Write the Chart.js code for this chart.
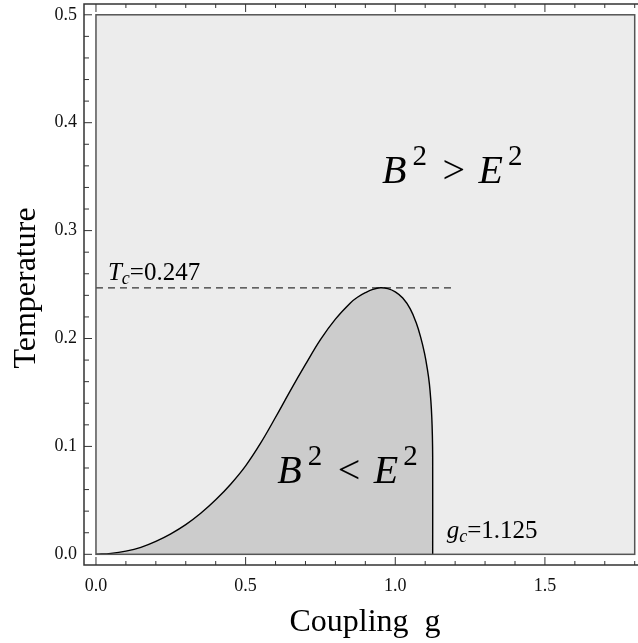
<!DOCTYPE html>
<html>
<head>
<meta charset="utf-8">
<script src="https://cdn.jsdelivr.net/npm/chart.js@4.4.0/dist/chart.umd.min.js"></script>
<style>
html, body { margin: 0; padding: 0; background: #fff; overflow: hidden; }
canvas { display: block; }
</style>
</head>
<body>
<canvas id="phaseChart" width="638" height="643"></canvas>
<script>
// boundary B^2 = E^2
var couplingG = [0, 0.05, 0.1, 0.15, 0.2, 0.25, 0.3, 0.35, 0.4, 0.45, 0.5, 0.55, 0.6, 0.65, 0.7, 0.75,
    0.8, 0.85, 0.875, 0.9, 0.925, 0.95, 0.975, 1.0, 1.025, 1.05, 1.07, 1.085, 1.098, 1.107, 1.114,
    1.119, 1.122, 1.124, 1.125, 1.125];
var temperatureT = [0, 0.0009, 0.003, 0.0065, 0.012, 0.019, 0.0275, 0.038, 0.0505, 0.065, 0.082, 0.103, 0.127, 0.152, 0.176, 0.199,
    0.218, 0.233, 0.2385, 0.2425, 0.2455, 0.247, 0.2462, 0.2432, 0.2375, 0.2275, 0.2145, 0.201, 0.186, 0.172, 0.158,
    0.142, 0.127, 0.110, 0.090, 0];

var criticalT = 0.247;
var criticalG = 1.125;
var dashedG = [0, 1.2];
var plotRangeG = [0, 1.8];
var plotRangeT = [0, 0.5];
var xTickLabels = [0, 0.5, 1.0, 1.5];
var yTickLabels = [0, 0.1, 0.2, 0.3, 0.4, 0.5];

var serif = '"Liberation Serif", "DejaVu Serif", serif';

// parts: text, font, dx (offset from start), dy
function drawParts(ctx, x, y, parts) {
    var cur = x;
    parts.forEach(function (p) {
        ctx.font = p.font;
        var px = p.dx !== undefined ? x + p.dx : cur;
        ctx.fillText(p.text, px, y + (p.dy || 0));
        cur = px + ctx.measureText(p.text).width;
    });
}

function inequality(op) {
    return [
        { text: 'B', font: 'italic 40px ' + serif, dx: 0 },
        { text: '2', font: '29px ' + serif, dx: 30.5, dy: -18.5 },
        { text: op, font: '40px ' + serif, dx: 60.5 },
        { text: 'E', font: 'italic 40px ' + serif, dx: 96.5 },
        { text: '2', font: '29px ' + serif, dx: 126, dy: -18.5 }
    ];
}

var framePlugin = {
    id: 'frame',
    beforeDatasetsDraw: function (chart) {
        var ctx = chart.ctx, xs = chart.scales.x, ys = chart.scales.y;
        var l = xs.getPixelForValue(plotRangeG[0]), r = xs.getPixelForValue(plotRangeG[1]);
        var t = ys.getPixelForValue(plotRangeT[1]), b = ys.getPixelForValue(plotRangeT[0]);
        ctx.save();
        ctx.fillStyle = '#ececec';
        ctx.fillRect(l, t, r - l, b - t);
        ctx.restore();
    },
    afterDatasetsDraw: function (chart) {
        var ctx = chart.ctx, xs = chart.scales.x, ys = chart.scales.y, a = chart.chartArea;
        var l = xs.getPixelForValue(plotRangeG[0]), r = xs.getPixelForValue(plotRangeG[1]);
        var t = ys.getPixelForValue(plotRangeT[1]), b = ys.getPixelForValue(plotRangeT[0]);
        ctx.save();
        // inner plot box
        ctx.strokeStyle = '#555';
        ctx.lineWidth = 1.5;
        ctx.strokeRect(l, t, r - l, b - t);

        // outer frame
        ctx.strokeStyle = '#333';
        ctx.lineWidth = 1.5;
        ctx.beginPath();
        ctx.moveTo(a.right + 2, a.top);
        ctx.lineTo(a.left, a.top);
        ctx.lineTo(a.left, a.bottom);
        ctx.lineTo(a.right + 2, a.bottom);
        ctx.stroke();

        // ticks, pointing inward
        ctx.lineWidth = 1;
        ctx.beginPath();
        var i, px, len;
        for (i = 0; i <= 18; i++) {
            px = xs.getPixelForValue(i / 10);
            len = i % 5 === 0 ? 8 : 4;
            ctx.moveTo(px, a.bottom); ctx.lineTo(px, a.bottom - len);
            ctx.moveTo(px, a.top); ctx.lineTo(px, a.top + len);
        }
        for (i = 0; i <= 25; i++) {
            px = ys.getPixelForValue(i / 50);
            len = i % 5 === 0 ? 8 : 5;
            ctx.moveTo(a.left, px); ctx.lineTo(a.left + len, px);
        }
        ctx.stroke();

        // labels
        ctx.fillStyle = '#000';
        ctx.textBaseline = 'alphabetic';
        ctx.textAlign = 'left';
        drawParts(ctx, xs.getPixelForValue(0.956), ys.getPixelForValue(0.344), inequality('>'));
        drawParts(ctx, xs.getPixelForValue(0.606), ys.getPixelForValue(0.066), inequality('<'));
        drawParts(ctx, xs.getPixelForValue(0.04), ys.getPixelForValue(0.254), [
            { text: 'T', font: 'italic 25px ' + serif },
            { text: 'c', font: 'italic 18px ' + serif, dy: 4 },
            { text: '=' + criticalT.toFixed(3), font: '25px ' + serif }
        ]);
        drawParts(ctx, xs.getPixelForValue(1.172), ys.getPixelForValue(0.0154), [
            { text: 'g', font: 'italic 25px ' + serif },
            { text: 'c', font: 'italic 18px ' + serif, dy: 4 },
            { text: '=' + criticalG.toFixed(3), font: '25px ' + serif }
        ]);

        // axis titles
        ctx.font = '32px ' + serif;
        ctx.textAlign = 'center';
        ctx.fillText('Coupling  g', 365, 631);
        ctx.translate(34.5, 288);
        ctx.rotate(-Math.PI / 2);
        ctx.fillText('Temperature', 0, 0);
        ctx.restore();
    }
};

var ctxPhase = document.getElementById('phaseChart').getContext('2d');
var phaseChart = new Chart(ctxPhase, {
    type: 'scatter',
    data: {
        datasets: [{
            label: 'B2 = E2',
            data: couplingG.map(function (g, i) { return { x: g, y: temperatureT[i] }; }),
            showLine: true,
            fill: 'origin',
            backgroundColor: '#cccccc',
            borderColor: '#000',
            borderWidth: 1.4,
            tension: 0.4,
            pointRadius: 0
        }, {
            label: 'Tc',
            data: dashedG.map(function (g) { return { x: g, y: criticalT }; }),
            showLine: true,
            fill: false,
            borderColor: '#333',
            borderWidth: 1.3,
            borderDash: [7, 5],
            pointRadius: 0
        }]
    },
    plugins: [framePlugin],
    options: {
        responsive: false,
        animation: false,
        events: [],
        layout: { padding: { top: 4, right: 0, left: 0, bottom: 0 } },
        plugins: { legend: { display: false }, tooltip: { enabled: false } },
        scales: {
            x: {
                type: 'linear',
                min: -0.04,
                max: 1.811,
                afterBuildTicks: function (scale) {
                    scale.ticks = xTickLabels.map(function (v) { return { value: v }; });
                },
                afterFit: function (scale) {
                    scale.height = 78;
                    scale.paddingLeft = 0;
                    scale.paddingRight = 0;
                },
                grid: { display: false, drawTicks: false },
                border: { display: false },
                ticks: {
                    autoSkip: false,
                    maxRotation: 0,
                    padding: 10,
                    color: '#111',
                    font: { family: serif, size: 18 },
                    callback: function (v) { return Number(v).toFixed(1); }
                }
            },
            y: {
                type: 'linear',
                min: -0.0099,
                max: 0.51,
                afterBuildTicks: function (scale) {
                    scale.ticks = yTickLabels.map(function (v) { return { value: v }; });
                },
                afterFit: function (scale) {
                    scale.width = 84;
                    scale.paddingTop = 0;
                    scale.paddingBottom = 0;
                },
                grid: { display: false, drawTicks: false },
                border: { display: false },
                ticks: {
                    autoSkip: false,
                    padding: 7,
                    color: '#111',
                    font: { family: serif, size: 18 },
                    callback: function (v) { return Number(v).toFixed(1); }
                }
            }
        }
    }
});
</script>
</body>
</html>
